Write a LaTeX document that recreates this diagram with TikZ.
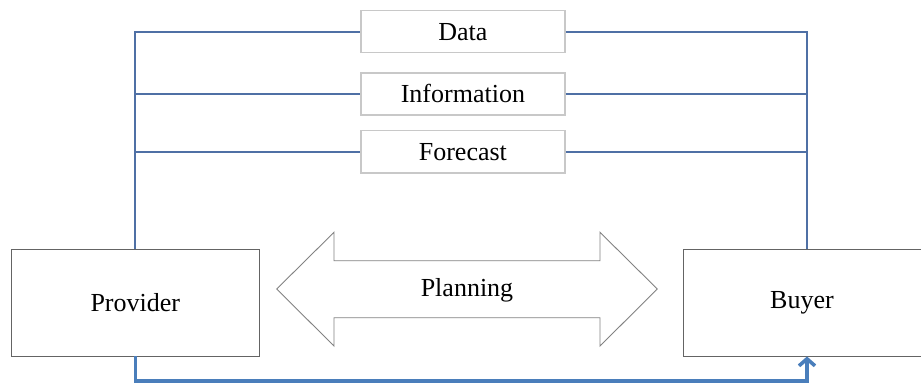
\documentclass[tikz,border=0pt]{standalone}
\usepackage{fontspec}
\setmainfont{Liberation Serif}
\usetikzlibrary{arrows.meta}
\definecolor{linkblue}{RGB}{79,112,165}
\definecolor{flowblue}{RGB}{74,126,187}
\definecolor{boxgray}{RGB}{100,100,100}
\definecolor{lightbox}{RGB}{200,200,200}
\definecolor{arrowgray}{RGB}{130,130,130}
\tikzset{
  mainbox/.style={draw=boxgray, line width=0.9pt, fill=white, inner sep=0pt,
    font=\fontsize{26}{30}\selectfont},
  infobox/.style={draw=lightbox, line width=1.6pt, fill=white, inner sep=0pt,
    minimum width=204pt, minimum height=42pt, font=\fontsize{26}{30}\selectfont},
  link/.style={draw=linkblue, line width=1.7pt},
  flow/.style={draw=flowblue, line width=3.6pt, -{Straight Barb[length=7pt,width=16pt]}},
  bigarrow/.style={draw=arrowgray, line width=0.9pt, fill=white},
  plantext/.style={inner sep=0pt, font=\fontsize{26}{30}\selectfont}
}
\begin{document}
\begin{tikzpicture}[x=1pt,y=-1pt]
\useasboundingbox (0,0) rectangle (921,385);
% main boxes
\node[mainbox, minimum width=247.5pt, minimum height=107pt] (prov) at (135.3,302.5) {Provider};
\node[mainbox, minimum width=238pt, minimum height=107pt] (buyer) at (802,302.5) {Buyer};
% info boxes
\node[infobox] (data) at (462.9,31.7) {Data};
\node[infobox] (info) at (462.9,93.8) {Information};
\node[infobox] (fore) at (462.9,151.7) {Forecast};
% corner coordinates
\coordinate (L) at (135.3,31.7);
\coordinate (R) at (807,31.7);
\coordinate (B) at (807,380.7);
% link lines
\draw[link] (prov.north) -- (L) -- (data.west);
\draw[link] (info.west -| L) -- (info.west);
\draw[link] (fore.west -| L) -- (fore.west);
\draw[link] (data.east) -- (R) -- (R |- buyer.north);
\draw[link] (info.east) -- (info.east -| R);
\draw[link] (fore.east) -- (fore.east -| R);
% planning double arrow
\draw[bigarrow] (276.7,289) -- (334,232.3) -- (334,260.7) -- (600,260.7) -- (600,232.3)
  -- (657.3,289) -- (600,346) -- (600,317.7) -- (334,317.7) -- (334,346) -- cycle;
\node[plantext] (plan) at (467,290) {Planning};
% bottom flow arrow
\draw[flow] (prov.south) -- (prov.south |- B) -- (B) -- (B |- buyer.south);
\end{tikzpicture}
\end{document}
